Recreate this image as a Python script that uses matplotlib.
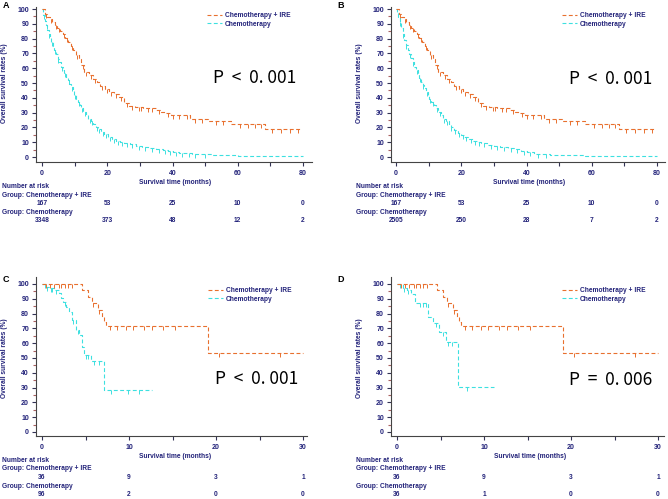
import numpy as np
import matplotlib.pyplot as plt
from matplotlib import transforms
from matplotlib.lines import Line2D
from matplotlib.ticker import MultipleLocator

plt.rcParams['font.family'] = ['Liberation Sans', 'DejaVu Sans']

W, H = 668, 499
NAVY = '#23237a'
ORANGE = '#e8702f'
CYAN = '#3de0e0'

# ---------------- data ----------------
# IRE group, panels A and B (n=167)
ire_ab_t = [0, 0.8, 1.6, 2.4, 3.2, 3.9, 4.7, 5.5, 6.3, 7.2, 8.0, 8.8, 9.6, 10.4, 11.2, 12.0,
            13.0, 14.4, 15.6, 16.8, 17.9, 19.2, 20.6, 22.0, 23.6, 25.0, 26.6, 28.6, 31.0,
            34.8, 36.4, 37.6, 39.4, 45.4, 51.0, 57.8, 68.2]
ire_ab_s = [100, 96.5, 94.5, 93, 91, 89, 87, 85, 83, 80.5, 78, 75, 72, 69, 66, 62,
            57.5, 55.5, 53, 50.5, 48, 46, 44, 42.5, 40.5, 36.5, 34.5, 33.5, 33,
            32, 30.5, 29.5, 28.3, 26, 24.5, 22, 19]
ire_ab_end = 79.3
ire_ab_cens = [1.2, 2.8, 4.2, 5.1, 6.7, 7.6, 9.2, 10.8, 12.6, 13.6, 15.0, 16.2, 18.5, 19.8,
               21.2, 22.8, 24.2, 26.0, 27.6, 29.6, 30.4, 32.5, 33.8, 36.0, 38.6, 40.2, 42.0,
               44.4, 46.8, 49.0, 53.4, 55.6, 60.8, 63.0, 65.4, 67.0, 70.6, 73.4, 76.0, 78.4]

# chemotherapy group, panel A (n=3348)
chemo_a_t = [0, 0.4, 0.8, 1.2, 1.6, 2.0, 2.4, 2.8, 3.3, 3.8, 4.3, 4.8, 5.3, 5.8, 6.3, 6.8,
             7.3, 7.9, 8.4, 8.9, 9.4, 9.9, 10.4, 10.9, 11.5, 12.0, 12.7, 13.5, 14.2, 15.0,
             15.7, 16.5, 17.2, 18.0, 19.0, 20.1, 21.4, 22.7, 24.0, 25.2, 27.0, 28.8, 30.8,
             32.9, 35.0, 37.0, 38.5, 40.0, 42.0, 44.0, 46.0, 48.0, 52.0, 56.0, 60.0]
chemo_a_s = [100, 96, 92, 89, 86, 83, 80.5, 78, 75, 72, 69.5, 66.5, 64, 61, 59, 56.5,
             54, 52, 49.5, 47, 44.5, 42, 39.5, 37.5, 35, 33, 30.5, 28.5, 26, 24,
             22, 20.5, 19, 17, 15.5, 13.7, 12.3, 11, 10, 9.2, 8.5, 7.7, 7,
             6.3, 5.5, 4.7, 4.1, 3.6, 3, 2.5, 2.1, 1.8, 1.4, 1.2, 0.9]
chemo_a_end = 80
chemo_a_cens = [0.6, 1.4, 2.2, 3.0, 4.0, 5.0, 6.0, 7.0, 8.2, 9.2, 10.2, 11.2, 12.4, 13.2,
                14.6, 15.4, 16.8, 17.6, 18.6, 19.6, 20.8, 22.0, 23.2, 24.6, 26.0, 27.6,
                29.6, 31.6, 33.6, 35.8, 37.8, 39.2, 41.0, 43.0, 45.0, 47.0, 50.0]

# chemotherapy group, panel B (n=2505)
chemo_b_t = [0, 0.3, 0.7, 1.1, 1.5, 2.0, 2.5, 3.0, 3.6, 4.1, 4.6, 5.1, 5.6, 6.1, 6.6, 7.2,
             7.7, 8.2, 8.7, 9.2, 9.7, 10.2, 10.7, 11.5, 12.3, 13.0, 13.8, 14.5, 15.3, 16.1,
             16.9, 17.9, 18.9, 19.9, 20.9, 22.2, 23.5, 24.8, 26.0, 28.0, 30.0, 32.0, 34.2,
             36.2, 38.3, 40.2, 42.2, 44.5, 47.3, 52.0, 58.0]
chemo_b_s = [100, 97, 94.8, 91, 87, 83, 79, 75.5, 72, 69.5, 66.7, 64, 61, 58.5, 56, 53.5,
             51, 48.5, 46.4, 44, 42, 39.5, 37.4, 35, 33, 30.5, 28.4, 26, 24, 22,
             20.5, 18.5, 16.4, 14.8, 13.3, 12, 11, 10, 9.2, 8.2, 7.4, 6.8, 6.3,
             5.3, 4.3, 3.6, 2.3, 2.0, 1.6, 1.2, 0.9]
chemo_b_end = 80
chemo_b_cens = [0.5, 1.3, 2.2, 3.2, 4.3, 5.3, 6.3, 7.4, 8.4, 9.4, 10.4, 11.2, 12.6, 13.4,
                14.8, 15.6, 17.0, 18.2, 19.4, 20.4, 21.6, 23.0, 24.2, 25.4, 27.0, 29.0,
                31.0, 33.0, 35.2, 37.2, 39.2, 41.2, 43.4, 46.0]

# IRE group, panels C and D (n=36)
ire_cd_t = [0, 4.55, 5.25, 5.75, 6.4, 6.9, 7.15, 7.4, 19.05]
ire_cd_s = [100, 95.8, 91.4, 87, 82.4, 78, 74.5, 71.3, 53.5]
ire_cd_end = 30
ire_cd_cens = [0.5, 0.9, 1.4, 1.9, 2.2, 2.6, 3.0, 3.4, 5.9, 6.6, 7.8, 8.6, 9.6, 10.5, 11.7,
               12.6, 13.9, 15.3, 20.4, 27.3]

# chemotherapy group, panel C (n=96)
chemo_c_t = [0, 0.45, 0.85, 1.4, 1.9, 2.2, 2.45, 2.75, 3.1, 3.45, 3.9, 4.3, 4.6, 4.85, 5.6, 7.15]
chemo_c_s = [100, 98.2, 97, 96, 93.7, 90.3, 88, 84.7, 81.3, 75.7, 69, 65.5, 57.7, 52, 47.7, 28.6]
chemo_c_end = 12.6
chemo_c_cens = [0.3, 0.6, 1.0, 1.2, 1.6, 2.6, 3.6, 4.1, 5.0, 5.3, 6.0, 6.5, 7.9, 9.9, 11.1]

# chemotherapy group, panel D (n=36)
chemo_d_t = [0, 0.65, 1.15, 1.6, 2.1, 3.6, 4.15, 4.85, 5.6, 7.05]
chemo_d_s = [100, 97.5, 96, 93.5, 87, 77.7, 73.5, 67.8, 60.5, 30.3]
chemo_d_end = 11.2
chemo_d_cens = [0.4, 0.8, 1.3, 2.6, 3.0, 3.3, 4.5, 5.3, 5.9, 6.3, 8.0]

risk_ticks_ab = [0, 20, 40, 60, 80]
risk_ticks_cd = [0, 10, 20, 30]
risk_ire_a = [167, 53, 25, 10, 0]
risk_chemo_a = [3348, 373, 48, 12, 2]
risk_ire_b = [167, 53, 25, 10, 0]
risk_chemo_b = [2505, 250, 28, 7, 2]
risk_ire_c = [36, 9, 3, 1]
risk_chemo_c = [96, 2, 0, 0]
risk_ire_d = [36, 9, 3, 1]
risk_chemo_d = [36, 1, 0, 0]

p_texts = ['P  <  0. 001', 'P  <  0. 001', 'P  <  0. 001', 'P  =  0. 006']
panel_letters = ['A', 'B', 'C', 'D']
lab_ire = 'Chemotherapy + IRE'
lab_chemo = 'Chemotherapy'

fig = plt.figure(figsize=(W / 100, H / 100), dpi=100)


def px_ax(box, xmap, ymap):
    # place an axes by pixel box and map data values to pixels
    left, top, right, bottom = box
    ax = fig.add_axes([left / W, 1 - bottom / H, (right - left) / W, (bottom - top) / H])
    px0, v0, px1, v1 = xmap
    sx = (px1 - px0) / (v1 - v0)
    ax.set_xlim(v0 + (left - px0) / sx, v0 + (right - px0) / sx)
    py0, w0, py1, w1 = ymap
    sy = (py0 - py1) / (w1 - w0)
    ax.set_ylim(w0 - (bottom - py0) / sy, w0 + (py0 - top) / sy)
    return ax


def km(ax, t, s, t_end, cens, color):
    t = np.array(t, dtype=float)
    s = np.array(s, dtype=float)
    ax.step(np.append(t, t_end), np.append(s, s[-1]), where='post', color=color,
            lw=0.8, ls=(0, (3.5, 2.2)))
    c = np.array(cens)
    idx = np.searchsorted(t, c, side='right') - 1
    ax.plot(c, s[idx], ls='none', marker=3, ms=2.6, mew=0.7, color=color)


def style(ax, xmaj, xmin_):
    for sp in ['top', 'right']:
        ax.spines[sp].set_visible(False)
    for sp in ['left', 'bottom']:
        ax.spines[sp].set_color('#444444')
        ax.spines[sp].set_linewidth(0.8)
    ax.xaxis.set_major_locator(MultipleLocator(xmaj))
    ax.xaxis.set_minor_locator(MultipleLocator(xmin_))
    ax.yaxis.set_major_locator(MultipleLocator(10))
    ax.yaxis.set_minor_locator(MultipleLocator(5))
    ax.tick_params(which='major', direction='out', length=3, width=0.8, color='#333355',
                   labelsize=5, labelcolor=NAVY)
    ax.tick_params(axis='y', which='major', pad=2)
    ax.tick_params(axis='x', which='major', pad=3)
    ax.tick_params(axis='x', which='minor', direction='out', length=3, width=0.8, color='#333355')
    ax.tick_params(axis='y', which='minor', direction='out', length=2, width=0.8, color='#a86060')
    for lab in ax.get_xticklabels() + ax.get_yticklabels():
        lab.set_fontweight('bold')
    ax.patch.set_alpha(0)


txt = dict(fontsize=4.8, color=NAVY, fontweight='bold')

panels = [
    dict(box=(36, 7, 312, 162), xmap=(42, 0, 303, 80), ymap=(157, 0, 9, 100),
         ire=(ire_ab_t, ire_ab_s, ire_ab_end, ire_ab_cens),
         chemo=(chemo_a_t, chemo_a_s, chemo_a_end, chemo_a_cens),
         ticks=(20, 10), risk=(risk_ticks_ab, risk_ire_a, risk_chemo_a),
         x0=0, y0=0, leg=(207, 12), p=(213, 78), ylab=5, rlab=2),
    dict(box=(391, 7, 665, 162), xmap=(396, 0, 657, 80), ymap=(157, 0, 9, 100),
         ire=(ire_ab_t, ire_ab_s, ire_ab_end, ire_ab_cens),
         chemo=(chemo_b_t, chemo_b_s, chemo_b_end, chemo_b_cens),
         ticks=(20, 10), risk=(risk_ticks_ab, risk_ire_b, risk_chemo_b),
         x0=334, y0=0, leg=(562, 12), p=(569, 79), ylab=359, rlab=356),
    dict(box=(36, 277, 307, 436), xmap=(42, 0, 303, 30), ymap=(432, 0, 284, 100),
         ire=(ire_cd_t, ire_cd_s, ire_cd_end, ire_cd_cens),
         chemo=(chemo_c_t, chemo_c_s, chemo_c_end, chemo_c_cens),
         ticks=(10, 5), risk=(risk_ticks_cd, risk_ire_c, risk_chemo_c),
         x0=0, y0=274, leg=(208, 287), p=(215, 379), ylab=5, rlab=2),
    dict(box=(391, 277, 664, 436), xmap=(397, 0, 658, 30), ymap=(432, 0, 284, 100),
         ire=(ire_cd_t, ire_cd_s, ire_cd_end, ire_cd_cens),
         chemo=(chemo_d_t, chemo_d_s, chemo_d_end, chemo_d_cens),
         ticks=(10, 5), risk=(risk_ticks_cd, risk_ire_d, risk_chemo_d),
         x0=334, y0=274, leg=(562, 287), p=(569, 380), ylab=359, rlab=356),
]

for i, pn in enumerate(panels):
    ax = px_ax(pn['box'], pn['xmap'], pn['ymap'])
    km(ax, *pn['chemo'], CYAN)
    km(ax, *pn['ire'], ORANGE)
    style(ax, *pn['ticks'])

    handles = [Line2D([], [], color=ORANGE, lw=0.8, ls=(0, (3.5, 2.2))),
               Line2D([], [], color=CYAN, lw=0.8, ls=(0, (3.5, 2.2)))]
    lx, ly = pn['leg']
    ax.legend(handles, [lab_ire, lab_chemo], loc='upper left',
              bbox_to_anchor=(lx / W, 1 - ly / H), bbox_transform=fig.transFigure,
              frameon=False, borderpad=0, borderaxespad=0, handlelength=2.2,
              handletextpad=0.5, labelspacing=0.25, labelcolor=NAVY,
              prop=dict(size=4.8, weight='bold'))

    px, py = pn['p']
    fig.text(px / W, 1 - py / H, p_texts[i], fontsize=12.5, color='black',
             family=['Noto Sans CJK SC', 'DejaVu Sans'], ha='left', va='center')

    y0 = pn['y0']
    fig.text((pn['x0'] + 3) / W, 1 - (y0 + 5) / H, panel_letters[i], fontsize=6.5,
             fontweight='bold', color='black', ha='left', va='center')

    ax_mid = (pn['ymap'][0] + pn['ymap'][2]) / 2
    fig.text(pn['ylab'] / W, 1 - ax_mid / H, 'Overall survival rates (%)', rotation=90,
             ha='center', va='center', **txt)
    xl_mid = (pn['xmap'][0] + pn['xmap'][2]) / 2 + 3
    fig.text(xl_mid / W, 1 - (y0 + 183) / H, 'Survival time (months)',
             ha='center', va='center', **txt)

    rx = pn['rlab']
    fig.text(rx / W, 1 - (y0 + 187) / H, 'Number at risk', ha='left', va='center', **txt)
    fig.text(rx / W, 1 - (y0 + 195) / H, 'Group: ' + lab_ire, ha='left', va='center', **txt)
    fig.text(rx / W, 1 - (y0 + 212) / H, 'Group: ' + lab_chemo, ha='left', va='center', **txt)
    tr = transforms.blended_transform_factory(ax.transData, fig.transFigure)
    ticks_r, r_ire, r_chemo = pn['risk']
    for xv, n1, n2 in zip(ticks_r, r_ire, r_chemo):
        ax.text(xv, 1 - (y0 + 203.5) / H, str(n1), transform=tr, ha='center', va='center',
                clip_on=False, **txt)
        ax.text(xv, 1 - (y0 + 221) / H, str(n2), transform=tr, ha='center', va='center',
                clip_on=False, **txt)

fig.savefig('out.png', dpi=100)
